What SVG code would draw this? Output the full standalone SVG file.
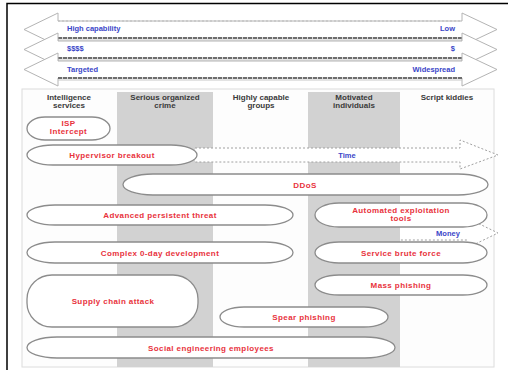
<svg xmlns="http://www.w3.org/2000/svg" width="508" height="370" viewBox="0 0 508 370">
<defs>
<style>
.ax{fill:#fff;stroke:#b4b4b4;stroke-width:1}
.axb{stroke:#6e6e6e;stroke-width:2.2;stroke-dasharray:4 1}
.axs{stroke:#c8c8c8;stroke-width:1}
.axt{stroke:#bbb;stroke-width:1;stroke-dasharray:2 2}
.bl{font-family:"Liberation Sans",Arial,sans-serif;font-weight:bold;font-size:7.5px;fill:#3a46c8}
.hd{font-family:"Liberation Sans",Arial,sans-serif;font-weight:bold;font-size:8px;fill:#3a3a3a;text-anchor:middle}
.pill{fill:#fff;stroke:#8c8c8c;stroke-width:1.3}
.rt{font-family:"Liberation Sans",Arial,sans-serif;font-weight:bold;font-size:8px;fill:#e8323c;text-anchor:middle;letter-spacing:0.4px}
.col{fill:#d2d2d2}
.dash{fill:none;stroke:#a0a0a0;stroke-width:1;stroke-dasharray:2 2}
</style>
</defs>
<rect width="508" height="370" fill="#fff"/>
<path d="M7 370 V3.5 H508" fill="none" stroke="#000" stroke-width="1.5"/>

<g id="scales">
<g id="scale-capability">
<polygon class="ax" points="24,29.5 58,13 58,21 462,21 462,13 497,29.5 462,46 462,38 58,38 58,46"/>
<line class="axt" x1="58" y1="21" x2="462" y2="21"/>
<line class="axb" x1="58" y1="38" x2="462" y2="38"/>
<line class="axs" x1="58" y1="40" x2="462" y2="40"/>
<text class="bl" x="67" y="31">High capability</text>
<text class="bl" x="455" y="31" text-anchor="end">Low</text>
</g>
<g id="scale-money">
<polygon class="ax" points="24,49.5 58,33 58,41 462,41 462,33 497,49.5 462,66 462,58 58,58 58,66"/>
<line class="axb" x1="58" y1="58" x2="462" y2="58"/>
<line class="axs" x1="58" y1="60" x2="462" y2="60"/>
<text class="bl" x="67" y="51">$$$$</text>
<text class="bl" x="455" y="51" text-anchor="end">$</text>
</g>
<g id="scale-target">
<polygon class="ax" points="24,69.5 58,53 58,61 462,61 462,53 497,69.5 462,86 462,78 58,78 58,86"/>
<line class="axb" x1="58" y1="78" x2="462" y2="78"/>
<line class="axs" x1="58" y1="80" x2="462" y2="80"/>
<text class="bl" x="67" y="72">Targeted</text>
<text class="bl" x="455" y="72" text-anchor="end">Widespread</text>
</g>
</g>

<g id="panel">
<rect x="22" y="89" width="472" height="278" fill="#fdfdfd" stroke="#dcdcdc" stroke-width="1"/>
<rect class="col" x="117" y="92" width="96" height="275"/>
<rect class="col" x="308" y="92" width="92" height="275"/>
</g>

<g id="headers">
<g id="col-intelligence"><text class="hd" x="69" y="100">Intelligence</text><text class="hd" x="69" y="108">services</text></g>
<g id="col-organized"><text class="hd" x="165" y="100">Serious organized</text><text class="hd" x="165" y="108">crime</text></g>
<g id="col-capable"><text class="hd" x="261" y="100">Highly capable</text><text class="hd" x="261" y="108">groups</text></g>
<g id="col-motivated"><text class="hd" x="354" y="100">Motivated</text><text class="hd" x="354" y="108">individuals</text></g>
<g id="col-script"><text class="hd" x="447" y="100">Script kiddies</text></g>
</g>

<g id="connectors">
<g id="time-arrow">
<polygon points="195,148 460,148 460,140 498,155 460,169 460,162 195,162" fill="#fff"/>
<path class="dash" d="M195,148 H460 V140 L498,155 L460,169 V162 H195"/>
<text class="bl" x="347" y="158" text-anchor="middle">Time</text>
</g>
<g id="money-arrow">
<polygon points="400,226 467,226 467,218 498,233 467,248 467,240 400,240" fill="#fff"/>
<path class="dash" d="M400,226 H467 V218 L498,233 L467,248 V240 H400"/>
<text class="bl" x="448" y="236" text-anchor="middle" font-size="7">Money</text>
</g>
</g>

<g id="isp-intercept">
<rect class="pill" x="27" y="117" width="83" height="23" rx="18" ry="11.5"/>
<text class="rt" x="68.5" y="126">ISP</text>
<text class="rt" x="68.5" y="134">Intercept</text>
</g>
<g id="hypervisor-breakout">
<rect class="pill" x="27" y="145" width="170" height="20" rx="26" ry="10"/>
<text class="rt" x="112" y="158">Hypervisor breakout</text>
</g>
<g id="ddos">
<rect class="pill" x="123" y="174" width="365" height="21" rx="30" ry="10.5"/>
<text class="rt" x="305" y="188">DDoS</text>
</g>
<g id="apt">
<rect class="pill" x="27" y="205" width="266" height="20" rx="28" ry="10"/>
<text class="rt" x="160" y="218">Advanced persistent threat</text>
</g>
<g id="automated-tools">
<rect class="pill" x="315" y="203" width="172" height="24" rx="24" ry="12"/>
<text class="rt" x="401" y="213">Automated exploitation</text>
<text class="rt" x="401" y="221">tools</text>
</g>
<g id="zero-day">
<rect class="pill" x="27" y="242" width="266" height="21" rx="28" ry="10.5"/>
<text class="rt" x="160" y="255.5">Complex 0-day development</text>
</g>
<g id="brute-force">
<rect class="pill" x="315" y="242" width="172" height="21" rx="24" ry="10.5"/>
<text class="rt" x="401" y="255.5">Service brute force</text>
</g>
<g id="supply-chain">
<rect class="pill" x="27" y="275" width="171" height="52" rx="25" ry="24"/>
<text class="rt" x="113" y="304">Supply chain attack</text>
</g>
<g id="mass-phishing">
<rect class="pill" x="315" y="275" width="172" height="20" rx="24" ry="10"/>
<text class="rt" x="401" y="288">Mass phishing</text>
</g>
<g id="spear-phishing">
<rect class="pill" x="220" y="307" width="168" height="20" rx="24" ry="10"/>
<text class="rt" x="304" y="320">Spear phishing</text>
</g>
<g id="social-engineering">
<rect class="pill" x="27" y="337" width="368" height="21" rx="30" ry="10.5"/>
<text class="rt" x="211" y="350.5">Social engineering employees</text>
</g>
</svg>
